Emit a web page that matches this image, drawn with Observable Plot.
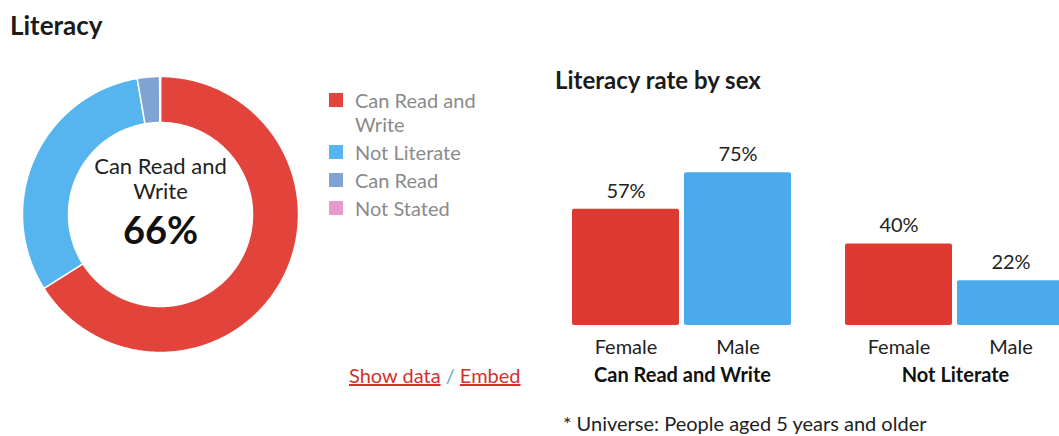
<!DOCTYPE html>
<html><head><meta charset="utf-8">
<script src="https://cdn.jsdelivr.net/npm/d3@7"></script>
<script src="https://cdn.jsdelivr.net/npm/@observablehq/plot@0.6"></script>
<style>
html,body{margin:0;padding:0;width:1059px;height:436px;overflow:hidden;background:#fff;font-family:Lato,"Open Sans",sans-serif;color:#222;}
.abs{position:absolute;white-space:nowrap;}
svg{max-width:none !important;}
#title{left:10px;top:10px;font-size:26px;font-weight:700;line-height:30px;color:#1b1b1b;}
#donut{left:0;top:60px;width:320px;height:308px;}
#legend{left:329px;top:88px;width:175px;white-space:normal;}
#barTitle{left:555px;top:66px;font-size:24px;font-weight:700;line-height:28px;color:#1b1b1b;}
#bars{left:540px;top:142px;width:560px;height:250px;}
#links{left:349px;top:363px;font-size:20px;line-height:24px;color:#6aa;}
#links a{color:#d4312c;text-decoration:underline;}
#note{left:563px;top:411px;font-size:20px;line-height:24px;color:#222;}
.lg-swatches{font-family:Lato,"Open Sans",sans-serif !important;font-size:20px !important;color:#8a8a8a !important;}
.lg-swatch{align-items:flex-start !important;padding-bottom:4px !important;margin:0 !important;}
.lg-swatch > svg{margin-top:5px !important;margin-right:12px !important;}
.lg-swatch > div, .lg-label{white-space:normal !important;overflow:visible !important;line-height:24px;}
</style></head>
<body>
<div id="title" class="abs">Literacy</div>
<div id="donut" class="abs"></div>
<div id="legend" class="abs"></div>
<div id="barTitle" class="abs">Literacy rate by sex</div>
<div id="bars" class="abs"></div>
<div id="links" class="abs"><a>Show data</a> / <a>Embed</a></div>
<div id="note" class="abs">* Universe: People aged 5 years and older</div>
<script>
// ---- Donut data ----
const categories = ["Can Read and Write", "Not Literate", "Can Read", "Not Stated"];
const shares = [66.0, 31.3, 2.6, 0.1];
const sliceColors = ["#e2443c", "#56b4ee", "#7fa4d4", "#e79ad0"];
const centerLabel = "Can Read and\nWrite";

// ---- Bar data ----
const groups = ["Can Read and Write", "Not Literate"];
const sexes = ["Female", "Male"];
const femaleRates = [57, 40];
const maleRates = [75, 22];
const barColors = ["#de3a32", "#4aaaec"];

// Build donut slices as geo polygons (longitude = angle, colatitude = radius)
const R = 30, r = 20;
let cum = 0;
const slices = categories.map((c, i) => {
  const a0 = cum * 3.6, a1 = (cum + shares[i]) * 3.6;
  cum += shares[i];
  const n = Math.max(2, Math.ceil((a1 - a0) / 0.5) + 1);
  const outer = d3.range(n).map(k => [180 - (a0 + (a1 - a0) * k / (n - 1)), 90 - R]);
  const inner = outer.slice().reverse().map(([lon]) => [lon, 90 - r]);
  let ring = [...outer, ...inner, outer[0]];
  let f = {type: "Feature", properties: {category: c}, geometry: {type: "Polygon", coordinates: [ring]}};
  if (d3.geoArea(f) > 2 * Math.PI) f.geometry.coordinates = [ring.slice().reverse()];
  return f;
});

const donut = Plot.plot({
  width: 320, height: 308,
  marginLeft: 22, marginRight: 22, marginTop: 16, marginBottom: 16,
  projection: {type: "azimuthal-equidistant", rotate: [0, -90], domain: d3.geoCircle().center([0, 90]).radius(R)()},
  color: {domain: categories, range: sliceColors},
  marks: [
    Plot.geo(slices, {fill: d => d.properties.category, stroke: "white", strokeWidth: 1.5}),
    Plot.text([{lon: 0, lat: 90, t: centerLabel}], {x: "lon", y: "lat", text: "t", fontSize: 22, lineHeight: 1.14, dy: -36, fill: "#222", fontFamily: "Lato"}),
    Plot.text([{lon: 0, lat: 90, t: shares[0].toFixed(0) + "%"}], {x: "lon", y: "lat", text: "t", fontSize: 38, fontWeight: "bold", dy: 17, fill: "#111", fontFamily: "Lato"})
  ]
});
document.getElementById("donut").appendChild(donut);

const legend = Plot.legend({
  color: {domain: categories, range: sliceColors},
  swatchSize: 14, columns: 1, className: "lg", width: 175
});
document.getElementById("legend").appendChild(legend);

// Bars
const rows = [];
groups.forEach((g, i) => {
  rows.push({group: g, sex: sexes[0], value: femaleRates[i]});
  rows.push({group: g, sex: sexes[1], value: maleRates[i]});
});

const bars = Plot.plot({
  width: 560, height: 250,
  marginLeft: 31, marginRight: 34, marginTop: 20, marginBottom: 67,
  style: {fontFamily: "Lato", fontSize: "20px", color: "#222", overflow: "visible"},
  fx: {domain: groups, paddingInner: 0.193, paddingOuter: 0, label: null},
  x: {domain: sexes, paddingInner: 0.044, paddingOuter: 0, label: null},
  y: {domain: [0, 80], axis: null},
  color: {domain: sexes, range: barColors},
  marks: [
    Plot.barY(rows, {fx: "group", x: "sex", y: "value", fill: "sex", rx: 2}),
    Plot.text(rows, {fx: "group", x: "sex", y: "value", text: d => d.value + "%", dy: -18, fontSize: 20, fill: "#222"}),
    Plot.axisX({tickSize: 0, tickPadding: 14, fontSize: 20, label: null, fill: "#222"}),
    Plot.axisFx({anchor: "bottom", tickSize: 0, tickPadding: 42, fontSize: 20, fontWeight: "bold", label: null, fill: "#111"})
  ]
});
document.getElementById("bars").appendChild(bars);
</script>
</body></html>
